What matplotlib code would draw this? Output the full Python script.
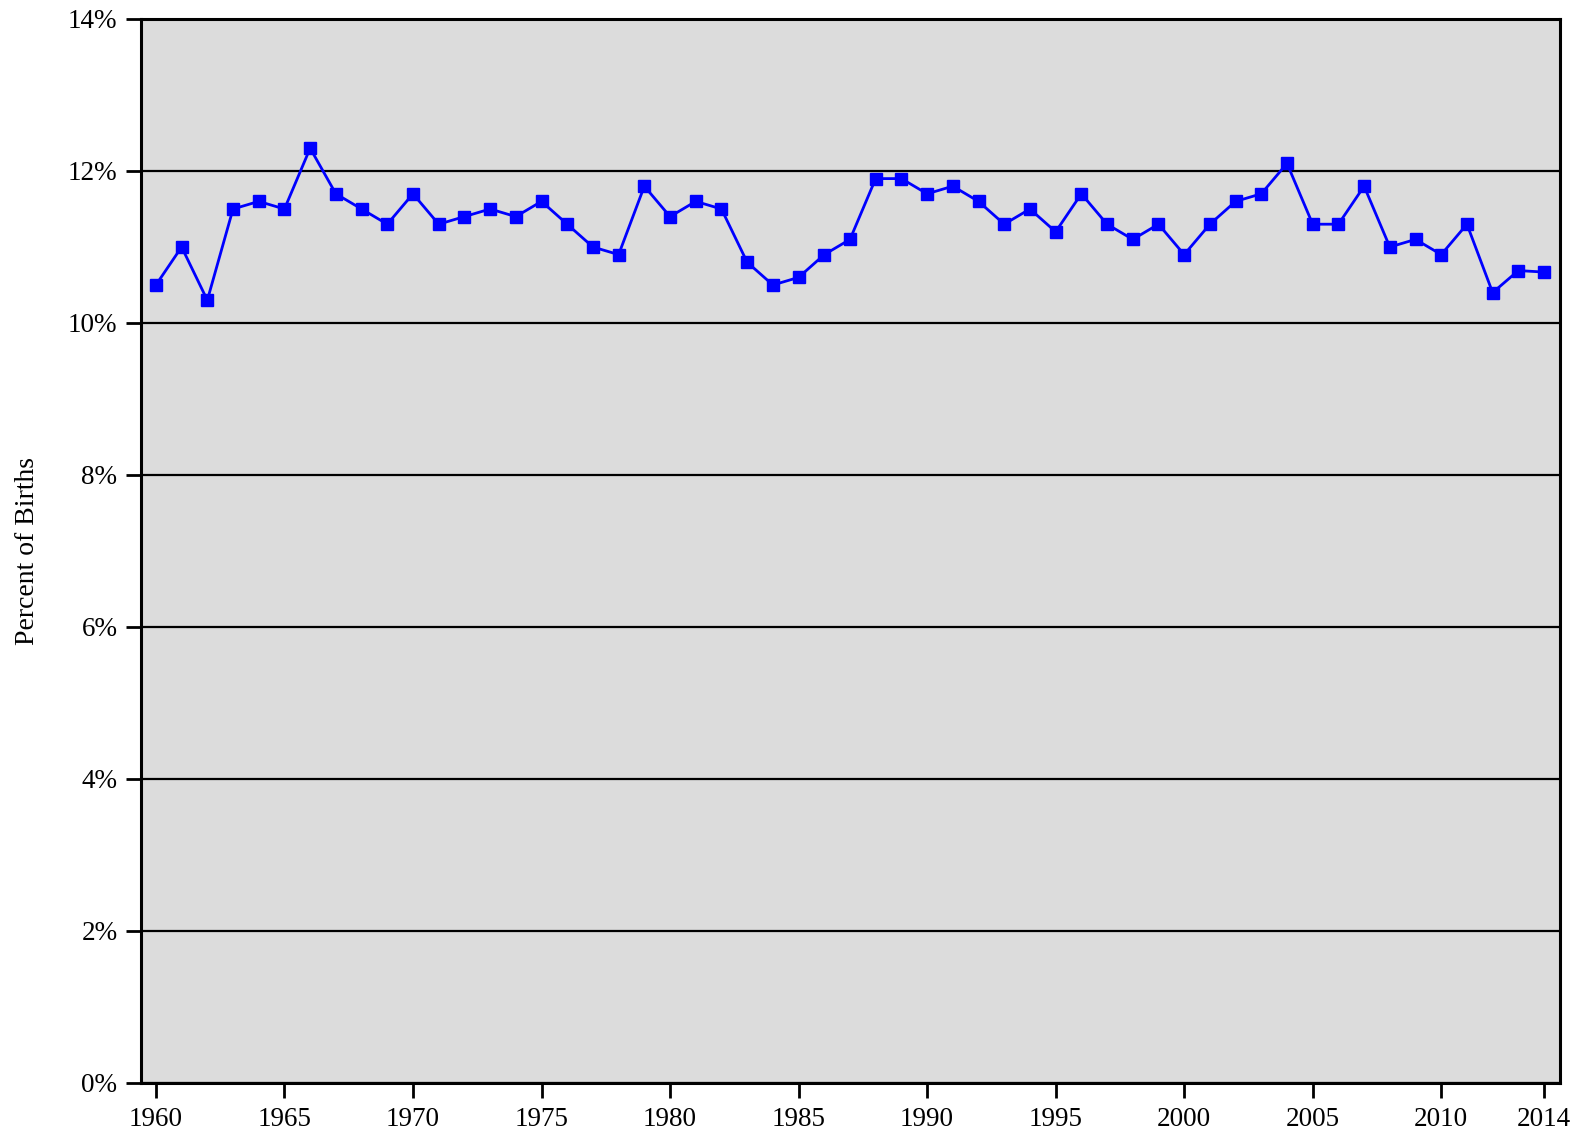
import matplotlib
matplotlib.use("Agg")
import matplotlib.pyplot as plt

years = list(range(1960, 2015))
percent = [10.5, 11.0, 10.3, 11.5, 11.6, 11.5, 12.3, 11.7, 11.5, 11.3,
           11.7, 11.3, 11.4, 11.5, 11.4, 11.6, 11.3, 11.0, 10.9, 11.8,
           11.4, 11.6, 11.5, 10.8, 10.5, 10.6, 10.9, 11.1, 11.9, 11.9,
           11.7, 11.8, 11.6, 11.3, 11.5, 11.2, 11.7, 11.3, 11.1, 11.3,
           10.9, 11.3, 11.6, 11.7, 12.1, 11.3, 11.3, 11.8, 11.0, 11.1,
           10.9, 11.3, 10.4, 10.69, 10.67]
xticks = [1960, 1965, 1970, 1975, 1980, 1985, 1990, 1995, 2000, 2005, 2010, 2014]
yticks = [0, 2, 4, 6, 8, 10, 12, 14]
ytick_labels = [f"{v}%" for v in yticks]

plt.rcParams['font.family'] = ['Liberation Serif', 'DejaVu Serif']

fig = plt.figure(figsize=(15.81, 11.37), dpi=100)
ax = fig.add_axes([141/1581, 1 - 1083/1137, (1560 - 141)/1581, (1083 - 19)/1137])
ax.set_facecolor('#DCDCDC')

ax.plot(years, percent, color='#0000FF', lw=2.0, marker='s', markersize=8.5,
        markerfacecolor='#0000FF', markeredgecolor='#0000FF', zorder=3)

ax.set_xlim(1959.42, 2014.62)
ax.set_ylim(0, 14)
ax.set_yticks(yticks)
ax.set_yticklabels(ytick_labels)
ax.set_xticks(xticks)
ax.set_xticklabels([str(x) for x in xticks])

ax.grid(axis='y', color='black', lw=1.6, zorder=1)
ax.set_axisbelow(True)
for s in ax.spines.values():
    s.set_linewidth(2.2)
    s.set_color('black')

ax.tick_params(axis='both', direction='out', length=11, width=2, labelsize=19.5, colors='black')
ax.tick_params(axis='y', pad=6)
ax.tick_params(axis='x', pad=6)

ax.set_ylabel("Percent of Births", fontsize=20, labelpad=20)

fig.savefig("out.png", dpi=100)
